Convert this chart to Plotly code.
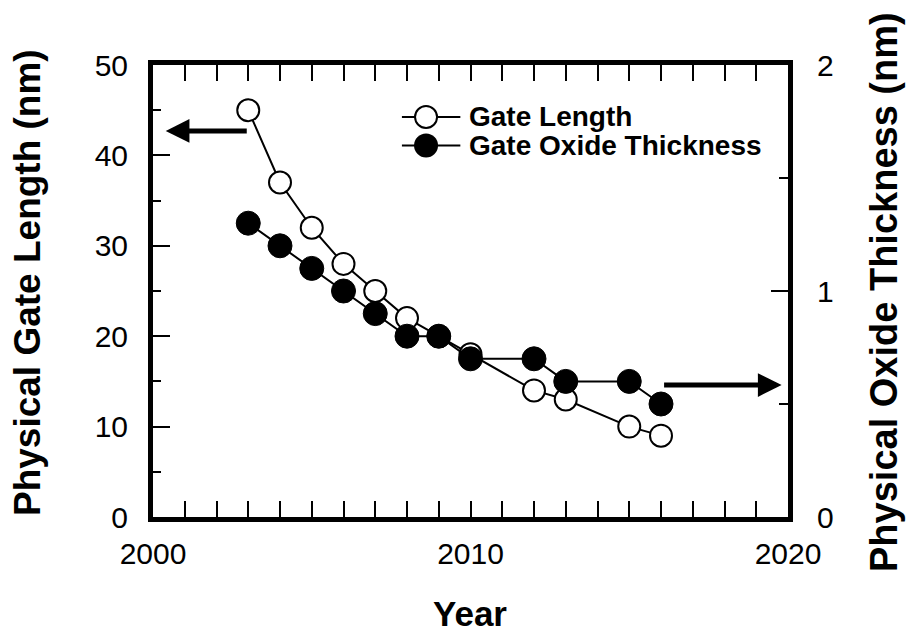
import plotly.graph_objects as go

# ITRS-style scaling targets
years_len = [2003, 2004, 2005, 2006, 2007, 2008, 2009, 2010, 2012, 2013, 2015, 2016]
gate_length_nm = [45, 37, 32, 28, 25, 22, 20, 18, 14, 13, 10, 9]

years_ox = [2003, 2004, 2005, 2006, 2007, 2008, 2009, 2010, 2012, 2013, 2015, 2016]
oxide_nm = [1.3, 1.2, 1.1, 1.0, 0.9, 0.8, 0.8, 0.7, 0.7, 0.6, 0.6, 0.5]

series_names = ["Gate Length", "Gate Oxide Thickness"]

FONT = "Liberation Sans, Arial, sans-serif"

fig = go.Figure()

fig.add_trace(go.Scatter(
    x=years_len, y=gate_length_nm, mode="lines+markers", name=series_names[0],
    line=dict(color="black", width=2),
    marker=dict(symbol="circle", size=22, color="white", line=dict(color="black", width=2)),
    showlegend=False,
))
fig.add_trace(go.Scatter(
    x=years_ox, y=oxide_nm, mode="lines+markers", name=series_names[1], yaxis="y2",
    line=dict(color="black", width=2),
    marker=dict(symbol="circle", size=24, color="black", line=dict(color="black", width=1)),
    showlegend=False,
))

# legend samples on an overlay axis spanning the plot area (0..1)
leg_rows = [0.885, 0.822]
fig.add_trace(go.Scatter(x=[0.392, 0.484], y=[leg_rows[0]] * 2, xaxis="x3", yaxis="y3",
                         mode="lines", line=dict(color="black", width=2),
                         showlegend=False, hoverinfo="skip"))
fig.add_trace(go.Scatter(x=[0.43], y=[leg_rows[0]], xaxis="x3", yaxis="y3", mode="markers",
                         marker=dict(size=22, color="white", line=dict(color="black", width=2)),
                         showlegend=False, hoverinfo="skip"))
fig.add_trace(go.Scatter(x=[0.392, 0.484], y=[leg_rows[1]] * 2, xaxis="x3", yaxis="y3",
                         mode="lines", line=dict(color="black", width=2),
                         showlegend=False, hoverinfo="skip"))
fig.add_trace(go.Scatter(x=[0.43], y=[leg_rows[1]], xaxis="x3", yaxis="y3", mode="markers",
                         marker=dict(size=24, color="black"),
                         showlegend=False, hoverinfo="skip"))

annotations = []
for name, yy in zip(series_names, leg_rows):
    annotations.append(dict(x=0.495, y=yy, xref="x3", yref="y3", text="<b>%s</b>" % name,
                            showarrow=False, xanchor="left", yanchor="middle",
                            font=dict(family=FONT, size=28, color="black")))

# axis arrows pointing to the relevant scale
annotations.append(dict(x=2000.4, y=42.7, ax=2003.0, ay=42.7, xref="x", yref="y",
                        axref="x", ayref="y", text="", showarrow=True, arrowhead=2,
                        arrowsize=0.95, arrowwidth=5, arrowcolor="black"))
annotations.append(dict(x=2019.8, y=14.6, ax=2016.05, ay=14.6, xref="x", yref="y",
                        axref="x", ayref="y", text="", showarrow=True, arrowhead=2,
                        arrowsize=0.95, arrowwidth=5, arrowcolor="black"))

# axis titles (positions given in pixels, converted to paper coordinates below)
titles = [
    dict(x=27, y=283, text="<b>Physical Gate Length (nm)</b>", textangle=-90, size=37),
    dict(x=884, y=292, text="<b>Physical Oxide Thickness (nm)</b>", textangle=-90, size=38),
    dict(x=470, y=613, text="<b>Year</b>", textangle=0, size=35),
]

W, H = 911, 634
L, R, T, B = 153, 123, 65, 117
pw, ph = W - L - R, H - T - B
for t in titles:
    annotations.append(dict(x=(t["x"] - L) / pw, y=(H - t["y"] - B) / ph,
                            xref="paper", yref="paper", text=t["text"], showarrow=False,
                            textangle=t["textangle"], xanchor="center", yanchor="middle",
                            font=dict(family=FONT, size=t["size"], color="black")))

tick_font = dict(family=FONT, size=30, color="black")

fig.update_layout(
    width=W, height=H,
    margin=dict(l=L, r=R, t=T, b=B, pad=0),
    paper_bgcolor="white", plot_bgcolor="white",
    showlegend=False,
    xaxis=dict(range=[2000, 2020], tickvals=[2000, 2010, 2020], ticks="inside", ticklen=16,
               tickwidth=2, tickcolor="black", showline=True, linewidth=5, linecolor="black",
               mirror="allticks", showgrid=False, zeroline=False, tickfont=tick_font,
               ticklabelstandoff=6,
               minor=dict(dtick=1, ticks="inside", ticklen=8, tickwidth=2, tickcolor="black",
                          showgrid=False)),
    yaxis=dict(range=[0, 50], tickvals=[0, 10, 20, 30, 40, 50], ticks="inside", ticklen=17,
               tickwidth=2, tickcolor="black", showline=True, linewidth=5, linecolor="black",
               mirror=True, showgrid=False, zeroline=False, tickfont=tick_font,
               ticklabelstandoff=14,
               minor=dict(dtick=5, ticks="inside", ticklen=8, tickwidth=2, tickcolor="black",
                          showgrid=False)),
    yaxis2=dict(range=[0, 2], tickvals=[0, 1, 2], overlaying="y", side="right", ticks="inside",
                ticklen=17, tickwidth=2, tickcolor="black", showline=True, linewidth=5,
                linecolor="black", showgrid=False, zeroline=False, tickfont=tick_font,
                ticklabelstandoff=18,
                minor=dict(dtick=0.5, ticks="inside", ticklen=9, tickwidth=2, tickcolor="black",
                           showgrid=False)),
    xaxis3=dict(range=[0, 1], overlaying="x", visible=False),
    yaxis3=dict(range=[0, 1], overlaying="y", visible=False),
    annotations=annotations,
)

fig.write_html("out.html")
